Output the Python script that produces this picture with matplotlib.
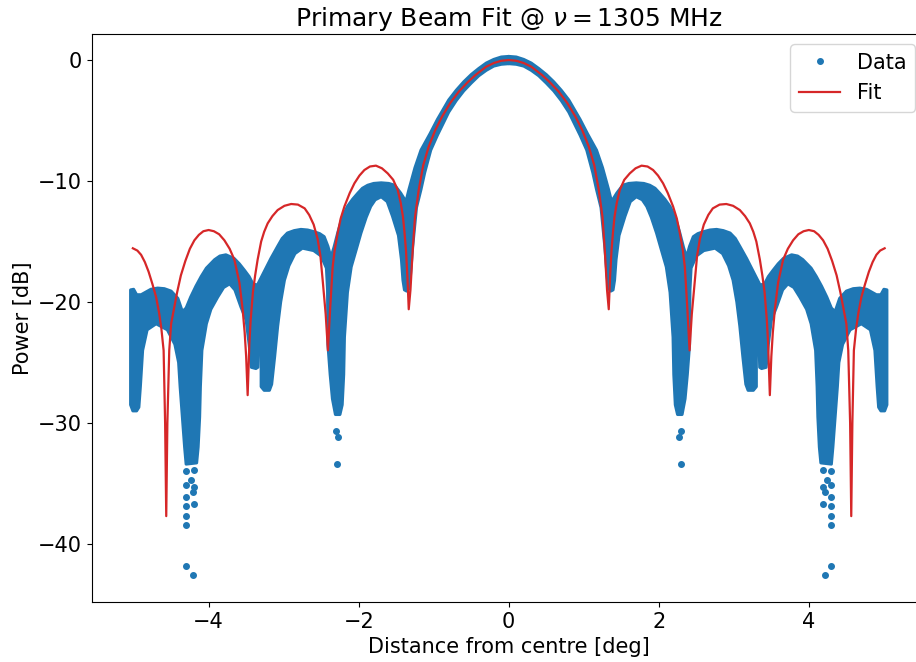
import numpy as np
import matplotlib
matplotlib.use('Agg')
import matplotlib.pyplot as plt

# Data band (right half, mirrored for x<0): upper and lower edges
top_x = [0.00, 0.10, 0.20, 0.30, 0.40, 0.50, 0.60, 0.70, 0.80, 0.95, 1.05, 1.17, 1.25, 1.33, 1.37,
         1.44, 1.52, 1.60, 1.70, 1.80, 1.88, 1.95, 2.01, 2.08, 2.15, 2.22, 2.28, 2.33, 2.37, 2.41,
         2.46, 2.52, 2.59, 2.68, 2.77, 2.86, 2.95, 3.02, 3.08, 3.17, 3.26, 3.35, 3.41, 3.46, 3.52,
         3.59, 3.66, 3.77, 3.85, 3.92, 4.03, 4.10, 4.17, 4.24, 4.30, 4.35, 4.41, 4.50, 4.59, 4.68,
         4.77, 4.90, 4.96, 5.00, 5.04]
top_y = [0.30, 0.25, 0.05, -0.25, -0.70, -1.20, -1.80, -2.50, -3.30, -4.90, -6.10, -7.45, -8.90,
         -10.70, -11.70, -11.00, -10.35, -10.20, -10.15, -10.20, -10.35, -10.60, -11.00, -11.50,
         -12.10, -13.00, -14.30, -15.50, -16.30, -15.40, -14.60, -14.35, -14.20, -14.05, -14.00,
         -14.10, -14.30, -14.75, -15.40, -16.40, -17.50, -18.60, -18.50, -17.90, -17.40, -16.85,
         -16.40, -16.10, -16.20, -16.50, -17.20, -17.90, -18.70, -19.60, -20.50, -20.80, -19.70,
         -19.10, -18.90, -18.85, -18.95, -19.40, -19.40, -18.95, -19.00]

bot_x = [0.00, 0.10, 0.20, 0.30, 0.40, 0.50, 0.60, 0.70, 0.80, 0.95, 1.04, 1.12, 1.17, 1.23, 1.28,
         1.31, 1.33, 1.36, 1.39, 1.41, 1.43, 1.47, 1.55, 1.62, 1.70, 1.78, 1.84, 1.90, 1.97, 2.03,
         2.10, 2.15, 2.19, 2.20, 2.22, 2.25, 2.31, 2.35, 2.38, 2.41, 2.415, 2.43, 2.50, 2.60, 2.75,
         2.85, 2.93, 2.99, 3.04, 3.08, 3.12, 3.16, 3.19, 3.26, 3.30, 3.30, 3.33, 3.345, 3.37, 3.43,
         3.46, 3.50, 3.57, 3.65, 3.72, 3.80, 3.88, 3.97, 4.03, 4.09, 4.11, 4.12, 4.14, 4.16, 4.30,
         4.32, 4.35, 4.38, 4.40, 4.45, 4.55, 4.70, 4.82, 4.88, 4.91, 4.93, 4.96, 5.01, 5.04]
bot_y = [-0.30, -0.35, -0.50, -0.85, -1.30, -1.90, -2.55, -3.35, -4.30, -6.20, -7.45, -9.30,
         -10.70, -12.20, -15.40, -17.80, -18.90, -19.10, -19.00, -18.20, -16.50, -14.50, -12.90,
         -11.70, -11.30, -11.55, -12.10, -13.00, -14.30, -15.60, -17.10, -19.20, -22.90, -26.00,
         -28.50, -29.30, -29.30, -28.00, -26.00, -23.50, -19.00, -17.20, -16.20, -15.75, -15.55,
         -16.00, -17.00, -18.20, -20.00, -22.00, -24.50, -26.80, -27.30, -27.30, -27.00, -19.00,
         -22.00, -25.40, -25.50, -25.40, -23.50, -21.50, -20.40, -19.00, -18.50, -18.80, -19.60,
         -20.60, -21.80, -24.00, -27.00, -29.50, -32.00, -33.30, -33.40, -32.00, -29.50, -27.00,
         -25.00, -23.50, -22.30, -21.80, -22.30, -24.00, -27.00, -28.70, -29.00, -29.00, -28.50]

# isolated data points below the nulls (right side, mirrored)
dot_x = [2.30, 2.27, 2.29, 4.19, 4.30, 4.24, 4.30, 4.19, 4.21, 4.30, 4.19, 4.30, 4.30, 4.30, 4.30, 4.21]
dot_y = [-30.7, -31.2, -33.4, -33.9, -34.0, -34.7, -35.1, -35.3, -35.7, -36.1, -36.7, -36.9,
         -37.7, -38.4, -41.8, -42.6]

# fitted beam (right half, mirrored)
fit_x = [0.0, 0.1, 0.2, 0.3, 0.444, 0.55, 0.667, 0.78, 0.889, 0.98, 1.067, 1.14, 1.2, 1.25, 1.28,
         1.31, 1.333,
         1.35, 1.37, 1.39, 1.41, 1.44, 1.48, 1.54, 1.613, 1.69, 1.77, 1.85, 1.924, 1.99, 2.057,
         2.12, 2.19, 2.24, 2.28, 2.32, 2.347, 2.38, 2.41,
         2.44, 2.48, 2.51, 2.547, 2.60, 2.66, 2.72, 2.81, 2.90, 2.99, 3.08, 3.15, 3.213, 3.26,
         3.30, 3.347, 3.38, 3.41, 3.44, 3.457, 3.48,
         3.50, 3.52, 3.547, 3.59, 3.657, 3.72, 3.79, 3.86, 3.93, 4.0, 4.07, 4.13, 4.19, 4.25,
         4.31, 4.37, 4.42, 4.46, 4.50, 4.525, 4.55, 4.565,
         4.58, 4.60, 4.63, 4.66, 4.70, 4.75, 4.80, 4.85, 4.90, 4.95, 5.01]
fit_y = [0.0, -0.06, -0.25, -0.55, -1.24, -1.85, -2.62, -3.55, -4.68, -5.8, -7.16, -8.7, -10.74,
         -13.0, -15.7, -19.0, -20.6,
         -18.0, -15.7, -14.2, -12.95, -11.8, -10.74, -9.9, -9.37, -8.95, -8.73, -8.8, -9.09,
         -9.55, -10.19, -11.0, -12.1, -13.1, -14.3, -15.7, -17.1, -20.5, -24.0,
         -21.0, -18.2, -16.2, -14.8, -13.6, -12.8, -12.26, -11.95, -11.9, -12.05, -12.4, -12.9,
         -13.5, -14.2, -15.0, -16.5, -17.8, -19.2, -21.5, -23.4, -27.7,
         -24.5, -22.5, -20.6, -18.4, -16.5, -15.6, -14.9, -14.4, -14.15, -14.05, -14.15, -14.45,
         -14.9, -15.6, -16.6, -17.8, -19.2, -20.5, -21.8, -24.0, -30.0, -37.7,
         -30.0, -24.0, -22.2, -20.9, -19.6, -18.5, -17.5, -16.7, -16.1, -15.75, -15.56]

tx, ty = np.array(top_x), np.array(top_y)
bx, by = np.array(bot_x), np.array(bot_y)
poly_x = np.concatenate([tx, bx[::-1]])
poly_y = np.concatenate([ty, by[::-1]])

fig = plt.figure(figsize=(9.16, 6.62), dpi=100)
ax = fig.add_axes([0.1004, 0.0906, 0.9100, 0.858])

for s in (1, -1):
    ax.fill(s * poly_x, poly_y, color='C0', lw=2.2, joinstyle='round')
dx = np.array(dot_x)
ax.plot(np.concatenate([dx, -dx]), np.concatenate([dot_y, dot_y]), '.', color='C0', ms=8,
        label='Data')

fx, fy = np.array(fit_x), np.array(fit_y)
ax.plot(np.concatenate([-fx[::-1], fx[1:]]), np.concatenate([fy[::-1], fy[1:]]),
        color='#d62728', lw=1.6, label='Fit')

ax.set_xlim(-5.555, 5.555)
ax.set_ylim(-44.8, 2.15)
ax.set_xticks([-4, -2, 0, 2, 4])
ax.set_yticks([0, -10, -20, -30, -40])
ax.tick_params(labelsize=15)
ax.set_xlabel('Distance from centre [deg]', fontsize=15)
ax.set_ylabel('Power [dB]', fontsize=15)
ax.set_title(r'Primary Beam Fit @ $\nu = 1305$ MHz', fontsize=18)
ax.legend(loc='upper right', fontsize=15)

fig.savefig('out.png', dpi=100)
